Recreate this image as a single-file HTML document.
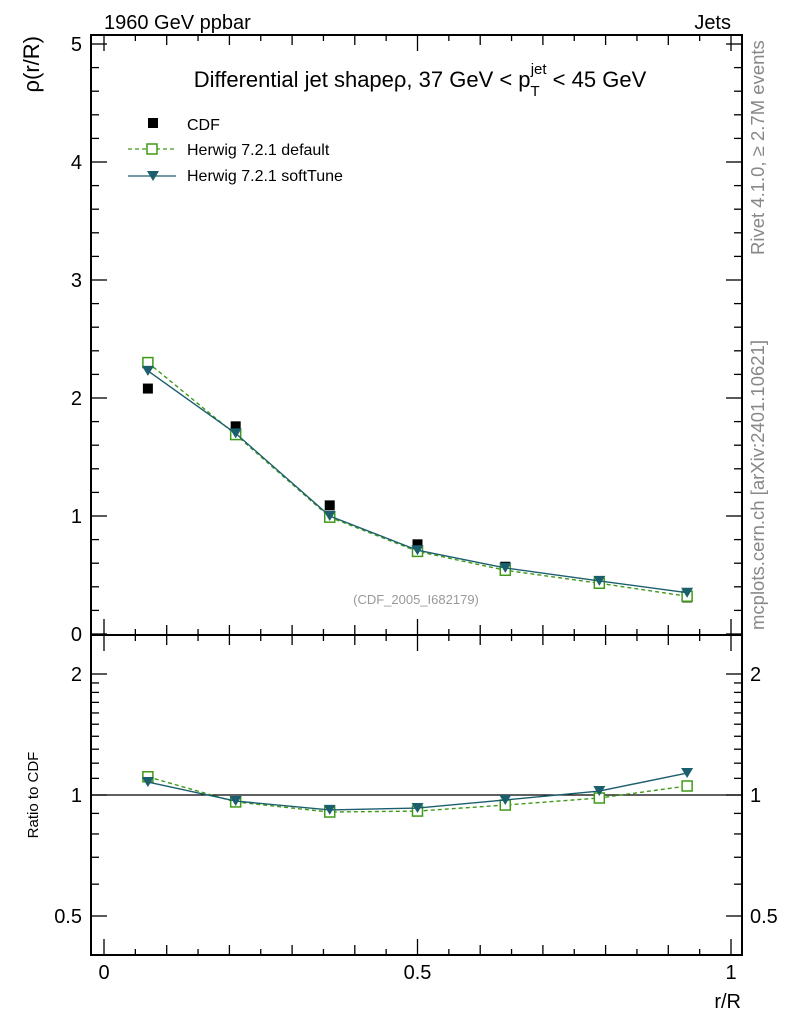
<!DOCTYPE html>
<html><head><meta charset="utf-8"><style>
html,body{margin:0;padding:0;background:#fff;}
svg{display:block;font-family:"Liberation Sans",sans-serif;}
</style></head><body>
<svg id="c" width="786" height="1024">
<text x="104" y="29" font-size="20">1960 GeV ppbar</text>
<text x="731" y="29" font-size="20" text-anchor="end">Jets</text>
<text x="420" y="87" font-size="22" text-anchor="middle">Differential jet shapeρ, 37 GeV &lt; p<tspan font-size="15" dy="9">T</tspan><tspan font-size="15" dx="-9" dy="-22">jet</tspan><tspan dy="13"> &lt; 45 GeV</tspan></text>
<text transform="translate(39,36) rotate(-90)" font-size="22" text-anchor="end">ρ(r/R)</text>
<text transform="translate(38,795) rotate(-90)" font-size="15" text-anchor="middle">Ratio to CDF</text>
<text x="741" y="1008" font-size="20" text-anchor="end">r/R</text>
<text transform="translate(764,255) rotate(-90)" font-size="18.5" fill="#888">Rivet 4.1.0, ≥ 2.7M events</text>
<text transform="translate(764,630) rotate(-90)" font-size="18.5" fill="#888">mcplots.cern.ch [arXiv:2401.10621]</text>
<text x="416" y="604" font-size="13" fill="#999" text-anchor="middle">(CDF_2005_I682179)</text>
<g>
<rect x="148" y="118" width="10" height="10" fill="#000"/>
<text x="187" y="130" font-size="16">CDF</text>
<line x1="128" y1="149" x2="176" y2="149" stroke="#3f9a17" stroke-width="1.3" stroke-dasharray="4,3"/>
<rect x="147" y="144" width="10" height="10" fill="#fff" stroke="#3f9a17" stroke-width="1.5"/>
<text x="187" y="155" font-size="16">Herwig 7.2.1 default</text>
<line x1="128" y1="176" x2="176" y2="176" stroke="#1b5e6e" stroke-width="1.3"/>
<path d="M147,171 L159,171 L153,181 Z" fill="#1b5e6e"/>
<text x="187" y="181" font-size="16">Herwig 7.2.1 softTune</text>
</g>
</svg>
<script>
const xCenters=[0.07,0.21,0.36,0.5,0.64,0.79,0.93];
const cdfVals=[2.08,1.76,1.09,0.76,0.57,0.43,0.31];
const defVals=[2.30,1.69,0.99,0.70,0.54,0.43,0.32];
const softVals=[2.23,1.70,1.00,0.71,0.56,0.45,0.35];
const defRatio=[1.11,0.961,0.907,0.912,0.944,0.983,1.053];
const softRatio=[1.077,0.966,0.918,0.928,0.972,1.023,1.134];
const yTicks=[0,1,2,3,4,5];
const rTicks=[0.5,1,2];
const xTickLabels=["0","0.5","1"];

const NS="http://www.w3.org/2000/svg";
const svg=document.getElementById('c');
const L=91,R=742,T=35,M=635,B=955;
const X=v=>104+v*627;
const Y=v=>634-v*118;
const RY=v=>795-Math.log2(v)*121;
function mk(t,a,p){const e=document.createElementNS(NS,t);for(const k in a)e.setAttribute(k,a[k]);(p||svg).appendChild(e);return e;}
function ln(x1,y1,x2,y2,w,c,d){const e=mk('line',{x1,y1,x2,y2,stroke:c||'#000','stroke-width':w||1});if(d)e.setAttribute('stroke-dasharray',d);return e;}
const f1=mk('rect',{x:L,y:T,width:R-L,height:M-T,fill:'none',stroke:'#000','stroke-width':2});


const f2=mk('rect',{x:L,y:M,width:R-L,height:B-M,fill:'none',stroke:'#000','stroke-width':2});


for(let i=0;i<=20;i++){const v=i*0.05,x=X(v);const len=i%10==0?16:(i%2==0?10:6);
 ln(x,M,x,M-len,1.3);ln(x,T,x,T+len,1.3);ln(x,B,x,B-len,1.3);ln(x,M,x,M+len,1.3);}
xTickLabels.forEach((s,i)=>{const t=mk('text',{x:X(i*0.5),y:979,'font-size':20,'text-anchor':'middle'});t.textContent=s;
 
 });
for(let i=0;i<=25;i++){const v=i*0.2,y=Y(v);if(y<T)continue;const len=i%5==0?16:8;ln(L,y,L+len,y,1.3);ln(R,y,R-len,y,1.3);}
yTicks.forEach(v=>{const t=mk('text',{x:82,y:Y(v)+7,'font-size':20,'text-anchor':'end'});t.textContent=v;
 
 });
[0.4,0.5,0.6,0.7,0.8,0.9,1,1.1,1.2,1.3,1.4,1.5,1.6,1.7,1.8,1.9,2,2.5].forEach(v=>{const y=RY(v);if(y>B||y<M)return;const len=rTicks.includes(v)?16:8;ln(L,y,L+len,y,1.3);ln(R,y,R-len,y,1.3);});
rTicks.forEach(v=>{const t=mk('text',{x:82,y:RY(v)+7,'font-size':20,'text-anchor':'end'});t.textContent=v;
 
 
 const t2=mk('text',{x:750,y:RY(v)+7,'font-size':20});t2.textContent=v;
 
 });
ln(L,RY(1),R,RY(1),1.3);
function series(vals,yf,col,dash,marker,name){
 const p=mk('polyline',{points:vals.map((v,i)=>X(xCenters[i])+','+yf(v)).join(' '),fill:'none',stroke:col,'stroke-width':1.4});
 if(dash)p.setAttribute('stroke-dasharray',dash);
 
 
 vals.forEach((v,i)=>{const x=X(xCenters[i]),y=yf(v);let e;
  if(marker=='sq')e=mk('rect',{x:x-5,y:y-5,width:10,height:10,fill:'#fff',stroke:col,'stroke-width':1.5});
  else e=mk('path',{d:`M${x-6},${y-5} L${x+6},${y-5} L${x},${y+5} Z`,fill:col});
  
  });
}
cdfVals.forEach((v,i)=>{const e=mk('rect',{x:X(xCenters[i])-5,y:Y(v)-5,width:10,height:10,fill:'#000'});
 
 });
series(defVals,Y,'#3f9a17','4,3','sq','default');
series(softVals,Y,'#1b5e6e',null,'tri','softtune');
series(defRatio,RY,'#3f9a17','4,3','sq','default-ratio');
series(softRatio,RY,'#1b5e6e',null,'tri','softtune-ratio');
</script>
</body></html>
